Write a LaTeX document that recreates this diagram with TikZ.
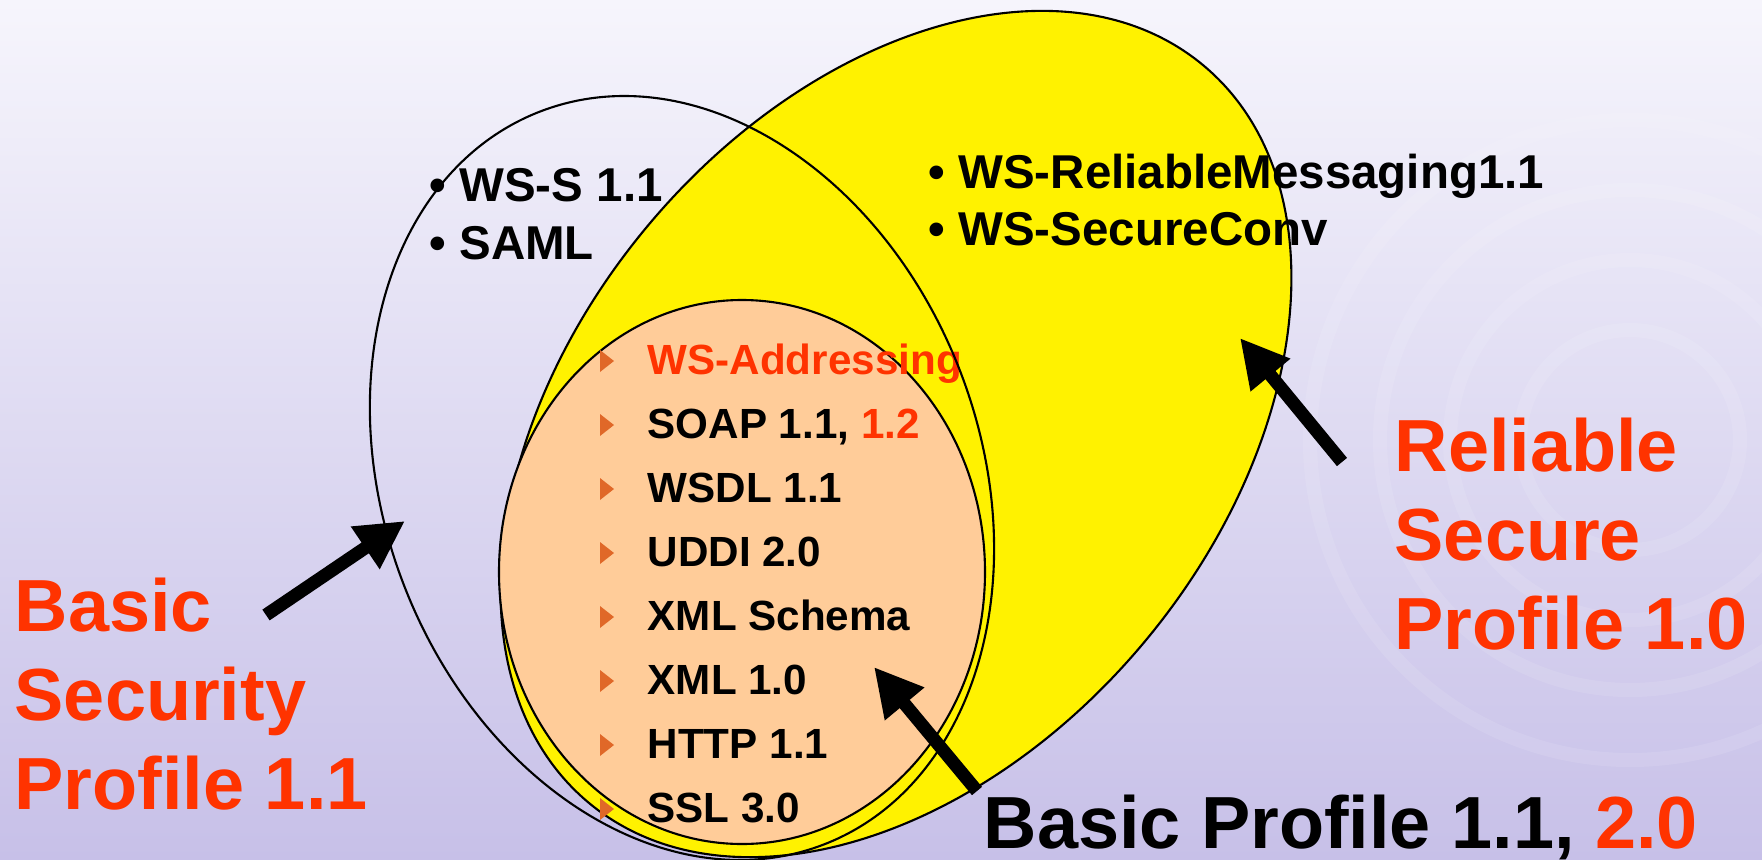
\documentclass[tikz,border=0pt]{standalone}
\usepackage{fontspec}
\setmainfont{Liberation Sans}
\usetikzlibrary{arrows.meta}
\definecolor{hired}{RGB}{255,51,0}
\definecolor{peach}{RGB}{255,204,153}
\definecolor{tick}{RGB}{224,104,40}
\definecolor{bgtop}{RGB}{246,245,252}
\definecolor{bgbot}{RGB}{199,192,232}
\newcommand{\hl}[1]{\textcolor{hired}{#1}}
\begin{document}
\begin{tikzpicture}[x=0.01cm,y=-0.01cm,
    set/.style={draw=black,line width=0.6pt},
    pointer/.style={line width=1.3mm,-{Triangle[length=4.8mm 0 0,width=4.8mm 0 0]}},
    big/.style={font=\fontsize{21}{25.3}\selectfont\bfseries,inner sep=0pt,align=left,text=hired},
    spec/.style={font=\fontsize{13.5}{16}\selectfont\bfseries,inner sep=0pt,anchor=base west},
    item/.style={font=\fontsize{12}{14}\selectfont\bfseries,inner sep=0pt,anchor=base west}]
  \useasboundingbox (0,0) rectangle (1762,860);
  \clip (0,0) rectangle (1762,860);
  \shade[top color=bgtop,bottom color=bgbot] (0,0) rectangle (1762,860);
  % faint swirl in the backdrop
  \foreach \r in {110,180,250,320}
    \draw[white,opacity=0.1,line width=4pt] (1630,440) circle[radius=\r];
  % the three profiles
  \coordinate (rsp c) at (896,434);
  \coordinate (bsp c) at (682,478);
  \coordinate (bp c) at (742,572);
  \draw[set,fill=yellow,rotate around={50.2:(rsp c)}] (rsp c) ellipse[x radius=480,y radius=324];
  \draw[set,fill=peach] (bp c) ellipse[x radius=243,y radius=272];
  % specs
  \node[spec] (wss) at (429,201) {• WS-S 1.1};
  \node[spec] (saml) at (429,259) {• SAML};
  \node[spec] (wsrm) at (928,188) {• WS-ReliableMessaging1.1};
  \node[spec] (wssc) at (928,245) {• WS-SecureConv};
  \foreach \txt [count=\i] in {\hl{WS-Addressing},{SOAP 1.1, \hl{1.2}},WSDL 1.1,UDDI 2.0,XML Schema,XML 1.0,HTTP 1.1,SSL 3.0}{
    \fill[tick] (600,286+64*\i) -- ++(14,11) -- ++(-14,11) -- cycle;
    \node[item] (item\i) at (647,310+64*\i) {\txt};
  }
  \draw[set,rotate around={21.2:(bsp c)}] (bsp c) ellipse[x radius=298,y radius=393];
  % labels
  \node[big,anchor=north west] (bsp label) at (14,577) {Basic\\Security\\Profile 1.1};
  \node[big,anchor=north west] (rsp label) at (1394,417) {Reliable\\Secure\\Profile 1.0};
  \node[big,text=black,anchor=base west] (bp label) at (983,848) {Basic Profile 1.1, \hl{2.0}};
  % arrows
  \coordinate (bsp tail) at (266,615);
  \coordinate (bsp tip) at (405,521);
  \coordinate (rsp tail) at (1342,462);
  \coordinate (rsp tip) at (1240,338);
  \coordinate (bp tail) at (977,791);
  \coordinate (bp tip) at (874,667);
  \draw[pointer] (bsp tail) -- (bsp tip);
  \draw[pointer] (rsp tail) -- (rsp tip);
  \draw[pointer] (bp tail) -- (bp tip);
\end{tikzpicture}
\end{document}
